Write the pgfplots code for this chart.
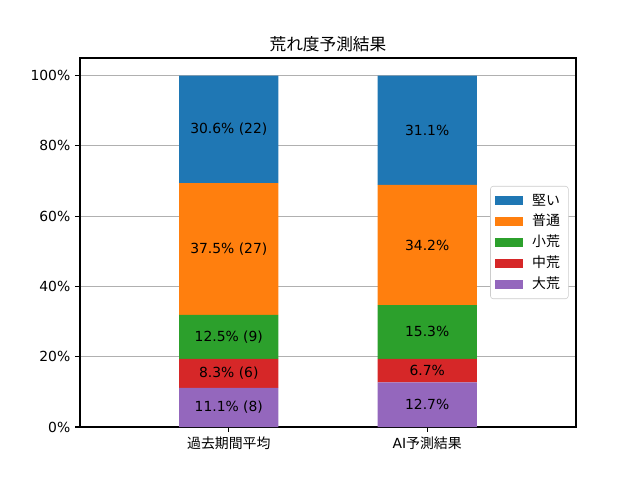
\documentclass[border=0pt]{standalone}
\usepackage{fontspec}
\setmainfont{Noto Sans CJK JP}
\newfontfamily\latin{DejaVu Sans}
\usepackage{pgfplots}
\pgfplotsset{compat=1.18}
\definecolor{c0}{HTML}{1F77B4}
\definecolor{c1}{HTML}{FF7F0E}
\definecolor{c2}{HTML}{2CA02C}
\definecolor{c3}{HTML}{D62728}
\definecolor{c4}{HTML}{9467BD}
\begin{document}
\begin{tikzpicture}
\useasboundingbox (0,0) rectangle (460.8pt,345.6pt);
\begin{axis}[
  at={(57.6pt,38.16pt)}, anchor=south west,
  scale only axis, width=357.12pt, height=265.68pt,
  ybar stacked, bar width=0.5,
  xmin=-0.75, xmax=1.75, ymin=0, ymax=105,
  xtick={0,1}, xticklabels={過去期間平均, {{\latin AI}予測結果}},
  ytick={0,20,40,60,80,100},
  yticklabel={\pgfmathprintnumber{\tick}\%},
  /pgf/number format/assume math mode=true,
  ymajorgrids, grid style={color=black!31, line width=0.8pt},
  tick align=outside, major tick length=3.5pt,
  tick style={black, line width=0.8pt},
  axis line style={line width=0.8pt},
  xtick pos=left, ytick pos=left,
  xticklabel style={font=\fontsize{10}{12}\selectfont},
  yticklabel style={font=\fontsize{10}{12}\selectfont\latin},
  title={荒れ度予測結果},
  title style={font=\fontsize{12}{14}\selectfont, at={(0.5,1)}, anchor=south, yshift=-5pt},
  reverse legend,
  legend cell align=left,
  legend image code/.code={\fill[#1, sharp corners] (0pt,-3.3pt) rectangle (20pt,3.3pt);},
  legend style={at={(0.985,0.5)}, anchor=east, draw=black!20, rounded corners=2pt,
    fill=white,
    font=\fontsize{10}{12}\selectfont,
    nodes={inner sep=2.5pt, text height=8pt, text depth=2pt},
    /tikz/every odd column/.append style={column sep=4pt},
    row sep=0pt, inner xsep=3.5pt, inner ysep=3pt},
]
\addplot[fill=c4, draw=none] coordinates {(0,11.1) (1,12.7)};
\addlegendentry{大荒}
\addplot[fill=c3, draw=none] coordinates {(0,8.3) (1,6.7)};
\addlegendentry{中荒}
\addplot[fill=c2, draw=none] coordinates {(0,12.5) (1,15.3)};
\addlegendentry{小荒}
\addplot[fill=c1, draw=none] coordinates {(0,37.5) (1,34.2)};
\addlegendentry{普通}
\addplot[fill=c0, draw=none] coordinates {(0,30.6) (1,31.1)};
\addlegendentry{堅い}
\end{axis}
\begin{axis}[
  at={(57.6pt,38.16pt)}, anchor=south west,
  scale only axis, width=357.12pt, height=265.68pt,
  xmin=-0.75, xmax=1.75, ymin=0, ymax=105,
  hide axis,
]
\addplot[draw=none, mark=none, nodes near coords, point meta=explicit symbolic,
  nodes near coords style={anchor=center, font=\fontsize{10}{12}\selectfont\latin, text=black}]
  coordinates {
  (0,5.55) [11.1\% (8)]
  (0,15.25) [8.3\% (6)]
  (0,25.65) [12.5\% (9)]
  (0,50.65) [37.5\% (27)]
  (0,84.7) [30.6\% (22)]
  (1,6.35) [12.7\%]
  (1,16.05) [6.7\%]
  (1,27.05) [15.3\%]
  (1,51.8) [34.2\%]
  (1,84.45) [31.1\%]
  };
\end{axis}
\end{tikzpicture}
\end{document}
